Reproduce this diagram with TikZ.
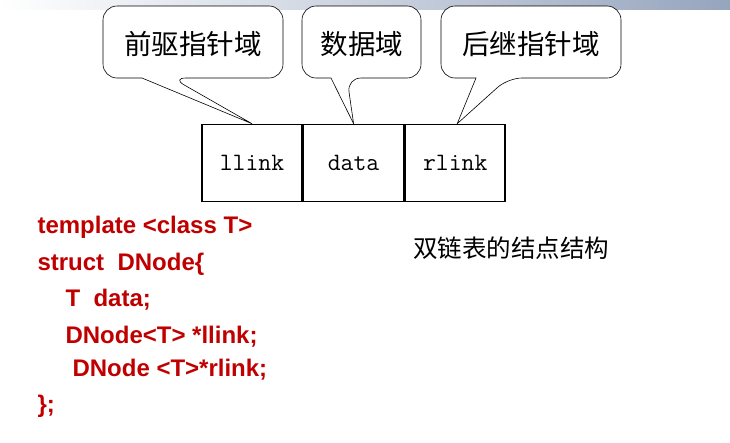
\documentclass[tikz,border=0pt]{standalone}
\usepackage{fontspec}
\setmainfont{Liberation Sans}
\newfontfamily\cjk{Noto Sans CJK SC}
\usetikzlibrary{positioning}
\definecolor{codered}{RGB}{192,0,0}
\definecolor{barblue}{RGB}{150,165,190}
\begin{document}
\begin{tikzpicture}[
    x=1pt, y=-1pt,
    cell/.style={draw, line width=1.6pt, minimum width=100pt, minimum height=77pt, inner sep=0pt, font=\fontsize{25}{27}\ttfamily},
    bubble/.style={draw, fill=white, line width=0.6pt},
    tip/.style={font=\fontsize{27.5}{30}\cjk},
    code/.style={anchor=west, text=codered, font=\fontsize{24}{26}\selectfont\bfseries}
  ]
    \useasboundingbox (0,0) rectangle (730,442);
    % top bar
    \shade[left color=white, right color=barblue] (0,0) rectangle (730,9);

    % node cells
    \node[cell] (ll) at (252,163) {llink};
    \node[cell, right=0pt of ll] (da) {data};
    \node[cell, right=0pt of da] (rl) {rlink};

    % callouts
    \draw[bubble, rounded corners=14pt] (103,6) -- (283,6) -- (283,78) -- (172,78)
      [sharp corners] -- (ll.north) -- (142,78) [rounded corners=14pt] -- (103,78) -- cycle;
    \draw[bubble, rounded corners=14pt] (302,6) -- (421,6) -- (421,78) -- (347,78)
      [sharp corners] -- (da.north) -- (331,78) [rounded corners=14pt] -- (302,78) -- cycle;
    \draw[bubble, rounded corners=14pt] (441,6) -- (621,6) -- (621,78) -- (508,78)
      [sharp corners] -- ([xshift=2pt]rl.north) -- (476,78) [rounded corners=14pt] -- (441,78) -- cycle;
    \node[tip] (pre) at (193,44) {前驱指针域};
    \node[tip] (dat) at (362,44) {数据域};
    \node[tip] (suc) at (531,44) {后继指针域};

    % struct definition
    \node[code] (c1) at (34,227) {template <class T>};
    \node[code] (c2) at (34,264) {struct\ \ DNode\{};
    \node[code] (c3) at (62,300) {T\ \ data;};
    \node[code] (c4) at (62,337) {DNode<T> *llink;};
    \node[code] (c5) at (69,370) {DNode <T>*rlink;};
    \node[code] (c6) at (34,406) {\};};

    % caption
    \node[font=\fontsize{24.5}{27}\cjk] (cap) at (511,248) {双链表的结点结构};
\end{tikzpicture}
\end{document}
